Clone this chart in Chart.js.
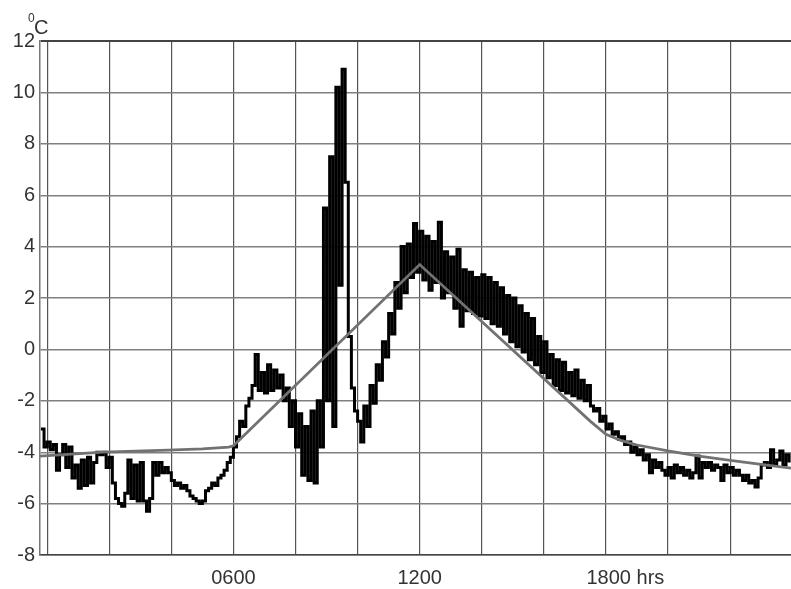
<!DOCTYPE html>
<html>
<head>
<meta charset="utf-8">
<script src="https://cdn.jsdelivr.net/npm/chart.js@4.4.1/dist/chart.umd.min.js"></script>
<style>
  html, body { margin: 0; padding: 0; background: #ffffff; }
  #wrap { width: 791px; height: 589px; position: relative; }
</style>
</head>
<body>
<div id="wrap"><canvas id="c" width="791" height="589"></canvas></div>
<script>
// ---- data ----
const sampleStartHour = -0.2;
const sampleStepHour = 0.1;
const temperature = [
  -3.1, -3.8, -3.6, -3.9, -3.7, -4.7, -4.1, -3.7, -4.6, -3.8,
  -5.0, -4.5, -5.4, -4.3, -5.3, -4.2, -5.2, -4.4, -4.0, -4.1,
  -4.0, -4.6, -4.2, -5.2, -5.8, -6.0, -6.1, -5.6, -4.3, -5.8,
  -4.5, -5.9, -4.4, -5.9, -6.3, -5.8, -4.4, -4.9, -4.4, -4.8,
  -4.6, -4.8, -5.1, -5.3, -5.2, -5.4, -5.3, -5.5, -5.7, -5.8,
  -5.9, -6.0, -5.9, -5.5, -5.4, -5.2, -5.3, -5.0, -4.9, -4.7,
  -4.4, -4.2, -3.8,
  -3.4, -2.8, -3.0, -2.2, -1.9, -1.4, -0.2, -1.6, -0.9, -1.7,
  -0.6, -1.6, -0.8, -1.5, -1.0, -2.0, -1.5, -3.0, -2.0, -3.8,
  -2.5, -4.9, -3.0, -5.1, -2.4, -5.2, -2.0, -3.8,
  5.5, -2.0, 7.5, -3.0, 10.2, 2.5, 10.9, 6.5, 0.5, -1.5, -2.4, -2.8, -3.6,
  -2.2, -3.0, -1.4, -2.1, -0.6, -1.2, 0.3, -0.3, 1.4, 0.6, 2.6, 1.6, 4.0, 2.2, 4.1, 2.8,
  4.9, 3.0, 4.6, 2.7, 4.4, 2.3, 4.2, 2.6, 4.95, 2.0, 3.8, 2.2, 3.6,
  1.6, 3.9, 0.9, 3.1, 1.5, 3.0, 1.4, 2.8, 1.3, 2.9,
  1.2, 2.8, 1.0, 2.6, 0.9, 2.4, 0.6, 2.1, 0.3, 2.0,
  0.1, 1.7, -0.1, 1.4, -0.4, 1.2, -0.6, 0.5, -0.9, 0.3,
  -1.1, -0.2, -1.4, -0.4, -1.6, -0.5, -1.7, -0.9, -1.8, -0.8, -1.9, -1.2, -2.0, -1.4, -2.2,
  -2.4, -2.3, -2.8, -2.6, -3.1, -2.9, -3.3, -3.2, -3.5, -3.4, -3.7, -3.6, -4.0, -3.8, -4.1,
  -3.9, -4.3, -4.1, -4.8, -4.3, -4.6, -4.4, -4.7, -4.9, -4.6,
  -5.0, -4.5, -4.8, -4.6, -4.9, -4.7, -5.0, -4.8, -4.15, -5.0,
  -4.4, -4.6, -4.4, -4.7, -4.5, -4.6, -5.1, -4.5, -4.8, -4.6,
  -4.9, -4.7, -4.9, -5.1, -4.9, -5.2, -5.1, -5.35, -5.0, -4.5,
  -4.4, -4.6, -3.9, -4.5, -4.3, -3.95, -4.5, -4.1, -4.4
];
const trendHours = [-0.23, 1.8, 3.9, 5.0, 5.85, 6.0, 12.0, 17.5, 18.0, 18.5, 19.0, 20.0, 21.0, 22.0, 23.0, 23.96];
const trendTemps = [-4.15, -4.0, -3.92, -3.87, -3.8, -3.75, 3.3, -2.8, -3.3, -3.55, -3.72, -3.95, -4.15, -4.32, -4.47, -4.62];
const xGridHours = [0, 2, 4, 6, 8, 10, 12, 14, 16, 18, 20, 22];
const xTickLabels = { 6: '0600', 12: '1200', 18: '       1800 hrs' };
const yTicks = [-8, -6, -4, -2, 0, 2, 4, 6, 8, 10, 12];
const unitLabel = ['0', 'C'];

// ---- build ----
const tempPoints = temperature.map((v, i) => ({ x: +(sampleStartHour + i * sampleStepHour).toFixed(2), y: v }));
const trendPoints = trendHours.map((h, i) => ({ x: h, y: trendTemps[i] }));

const FONT = "'Liberation Sans', Arial, sans-serif";

const unitPlugin = {
  id: 'unitLabel',
  afterDraw(chart) {
    const ctx = chart.ctx;
    ctx.save();
    ctx.fillStyle = '#333';
    ctx.textBaseline = 'alphabetic';
    ctx.textAlign = 'left';
    ctx.font = '12px ' + FONT;
    ctx.fillText(unitLabel[0], 28, 22);
    ctx.font = '20px ' + FONT;
    ctx.fillText(unitLabel[1], 34, 34);
    ctx.restore();
  }
};
const bgPlugin = {
  id: 'bg',
  beforeDraw(chart) {
    const ctx = chart.ctx;
    ctx.save();
    ctx.fillStyle = '#fff';
    ctx.fillRect(0, 0, chart.width, chart.height);
    ctx.restore();
  }
};

new Chart(document.getElementById('c'), {
  type: 'line',
  data: {
    datasets: [
      {
        data: trendPoints,
        borderColor: '#727272',
        borderWidth: 2.8,
        pointRadius: 0,
        tension: 0,
        order: 0
      },
      {
        data: tempPoints,
        borderColor: '#000',
        borderWidth: 3,
        pointRadius: 0,
        stepped: true,
        borderJoinStyle: 'miter',
        order: 1
      }
    ]
  },
  options: {
    responsive: false,
    animation: false,
    events: [],
    layout: { padding: { top: 41, left: 0, right: 0, bottom: 0 } },
    plugins: { legend: { display: false }, tooltip: { enabled: false } },
    scales: {
      x: {
        type: 'linear',
        min: -0.23,
        max: 23.96,
        afterBuildTicks: s => { s.ticks = xGridHours.map(v => ({ value: v })); },
        afterFit: s => { s.height = 34; },
        border: { display: true, color: '#444', width: 1.5 },
        grid: { color: '#555', lineWidth: 1.2, drawTicks: false },
        ticks: {
          autoSkip: false,
          maxRotation: 0,
          padding: 11,
          color: '#333',
          font: { family: FONT, size: 20 },
          callback: v => xTickLabels[v] || ''
        }
      },
      y: {
        type: 'linear',
        min: -8,
        max: 12,
        afterBuildTicks: s => { s.ticks = yTicks.map(v => ({ value: v })); },
        afterFit: s => { s.width = 40; },
        border: { display: true, color: '#777', width: 1.5 },
        grid: {
          color: c => (c.tick && c.tick.value === 12 ? '#444' : '#808080'),
          lineWidth: c => (c.tick && c.tick.value === 12 ? 2 : 1.4),
          drawTicks: false
        },
        ticks: {
          padding: 5,
          color: '#333',
          font: { family: FONT, size: 20 },
          callback: v => String(v)
        }
      }
    }
  },
  plugins: [bgPlugin, unitPlugin]
});
</script>
</body>
</html>
